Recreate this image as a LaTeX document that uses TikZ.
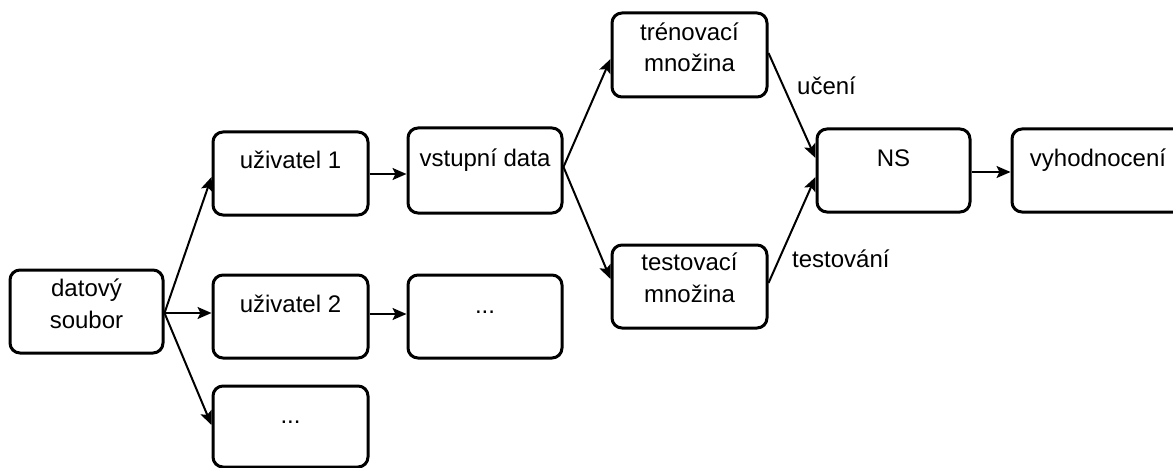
\documentclass[tikz,border=0pt]{standalone}
\usepackage{fontspec}
\setmainfont{Liberation Sans}
\usetikzlibrary{arrows.meta,calc}
\begin{document}
\begin{tikzpicture}[x=1pt,y=-1pt,
  box/.style={draw, line width=3pt, rounded corners=10pt, minimum width=#1, minimum height=83pt, inner sep=0pt},
  box/.default=155pt,
  txt/.style={anchor=base, inner sep=0pt, font=\fontsize{24}{31.5}\selectfont, align=center},
  lbl/.style={anchor=base west, inner sep=0pt, font=\fontsize{24}{31.5}\selectfont},
  conn/.style={line width=2pt, -{Stealth[length=14pt,width=12pt,inset=3pt]}}
]
\useasboundingbox (0,0) rectangle (1173,468);
\clip (0,0) rectangle (1173,468);

% boxes
\node[box=153pt] (ds) at (86.5,311.5) {};
\node[box] (u1) at (290.5,173.5) {};
\node[box] (u2) at (290.5,316.5) {};
\node[box, minimum height=81pt] (u3) at (290.5,426.5) {};
\node[box=154pt, minimum height=85pt] (vd) at (485,170.5) {};
\node[box=154pt] (md) at (485,316.5) {};
\node[box, minimum height=84pt] (tr) at (689.5,55) {};
\node[box] (te) at (689.5,286.5) {};
\node[box=153pt] (ns) at (893.5,170.5) {};
\node[box=172pt] (vy) at (1098,170.5) {};

% texts (base = baseline of the last line)
\node[txt] (dst) at ($(ds.center)+(0,16.5)$) {datový\\soubor};
\node[txt] (u1t) at ($(u1.center)+(0,-5.5)$) {uživatel 1};
\node[txt] (u2t) at ($(u2.center)+(0,-4.5)$) {uživatel 2};
\node[txt] (u3t) at ($(u3.center)+(0,-3)$) {...};
\node[txt] (vdt) at ($(vd.center)+(0,-3.5)$) {vstupní data};
\node[txt] (mdt) at ($(md.center)+(0,-3.5)$) {...};
\node[txt] (trt) at ($(tr.center)+(0,17)$) {trénovací\\množina};
\node[txt] (tet) at ($(te.center)+(0,15.5)$) {testovací\\množina};
\node[txt] (nst) at ($(ns.center)+(0,-3.5)$) {NS};
\node[txt] (vyt) at ($(vy.center)+(0,-3.5)$) {vyhodnocení};
\node[lbl] (lu) at (797,95) {učení};
\node[lbl] (lt) at (792,267) {testování};

% connectors
\draw[conn] ($(ds.east)+(0,1.5)$) -- ($(u1.west)+(0,3.5)$);
\draw[conn] ($(ds.east)+(0,1.5)$) -- ($(u2.west)+(0,-3.5)$);
\draw[conn] ($(ds.east)+(0,1.5)$) -- ($(u3.west)+(0,-1.5)$);
\draw[conn] ($(u1.east)+(0,0.5)$) -- ($(vd.west)+(0,3.5)$);
\draw[conn] ($(u2.east)+(0,-2.5)$) -- ($(md.west)+(0,-2.5)$);
\draw[conn] ($(vd.east)+(0,-3.5)$) -- ($(tr.west)+(0,4)$);
\draw[conn] ($(vd.east)+(0,-3.5)$) -- ($(te.west)+(0,-7.5)$);
\draw[conn] ($(tr.east)+(0,-2)$) -- ($(ns.west)+(0,-12.5)$);
\draw[conn] ($(te.east)+(0,-3.5)$) -- ($(ns.west)+(0,6.5)$);
\draw[conn] ($(ns.east)+(0,1.5)$) -- ($(vy.west)+(0,1.5)$);
\end{tikzpicture}
\end{document}
